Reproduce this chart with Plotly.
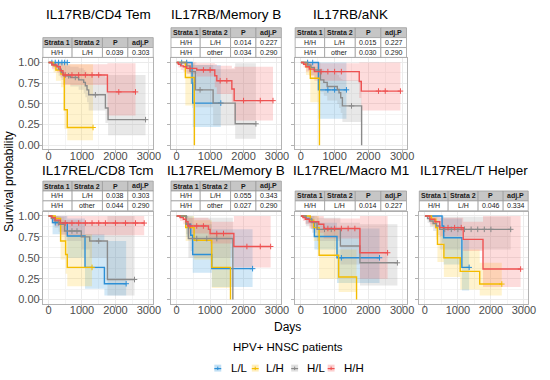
import plotly.graph_objects as go

W, H = 550, 380
FONT = "Liberation Sans, Arial, Helvetica, sans-serif"

GROUPS = ["L/L", "L/H", "H/L", "H/H"]
LINE_COLOR = {"L/L": "#2C8FD6", "L/H": "#F4BC00", "H/L": "#8A8A8A", "H/H": "#EE5252"}
FILL_RGB = {"L/L": (46, 150, 220), "L/H": (255, 200, 30), "H/L": (150, 150, 150), "H/H": (245, 95, 95)}
FILL_ALPHA = 0.22

X_TICKS = [0, 1000, 2000, 3000]
X_MINOR = [500, 1500, 2500]
Y_TICKS = [0.0, 0.25, 0.5, 0.75, 1.0]
Y_MINOR = [0.125, 0.375, 0.625, 0.875]
X_RANGE = [-170, 3130]
Y_RANGE = [-0.05, 1.05]

TABLE_HEADER = ["Strata 1", "Strata 2", "P", "adj.P"]

# ---- Kaplan-Meier curves ----
# t: step start times (days), s: survival, lo/hi: CI per step, end: last follow-up, cens: censor times
CD4TEM = {
    "L/L": dict(t=[0], s=[1.0], lo=[1.0], hi=[1.0], end=560, cens=[100, 200, 300, 400, 480, 560]),
    "L/H": dict(t=[0, 150, 220, 370, 470, 560], s=[1, 0.96, 0.91, 0.86, 0.43, 0.215],
                lo=[1, 0.88, 0.78, 0.70, 0.20, 0.06], hi=[1, 1, 1, 1, 1, 0.98], end=1330, cens=[1330]),
    "H/L": dict(t=[0, 100, 200, 300, 380, 450, 650, 900, 1050, 1100, 1150, 1200, 1700, 1780],
                s=[1, 0.98, 0.96, 0.92, 0.88, 0.84, 0.82, 0.79, 0.76, 0.72, 0.67, 0.61, 0.45, 0.31],
                lo=[1, 0.94, 0.90, 0.84, 0.79, 0.74, 0.71, 0.67, 0.63, 0.58, 0.52, 0.42, 0.27, 0.12],
                hi=[1, 1, 1, 1, 0.98, 0.96, 0.95, 0.93, 0.91, 0.89, 0.87, 0.86, 0.82, 0.85],
                end=2900, cens=[600, 800, 1400, 2900]),
    "H/H": dict(t=[0, 100, 250, 350, 430, 1760], s=[1, 0.97, 0.95, 0.90, 0.85, 0.645],
                lo=[1, 0.92, 0.88, 0.82, 0.73, 0.36], hi=[1, 1, 1, 0.99, 0.98, 0.99],
                end=2600, cens=[500, 700, 900, 1100, 1300, 1500, 2100, 2600]),
}

MEMB_RB = {
    "L/L": dict(t=[0, 460, 480], s=[1, 0.75, 0.51], lo=[1, 0.45, 0.22], hi=[1, 1, 0.97], end=1320, cens=[150, 300, 1320]),
    "L/H": dict(t=[0, 260, 530], s=[1, 0.82, 0.0], lo=[1, 0.48, 0.0], hi=[1, 0.98, 0.0], end=530, cens=[]),
    "H/L": dict(t=[0, 300, 400, 560, 1090, 1750], s=[1, 0.96, 0.89, 0.67, 0.51, 0.26],
                lo=[1, 0.88, 0.74, 0.46, 0.24, 0.08], hi=[1, 1, 1, 0.97, 0.92, 0.99], end=2370, cens=[700, 2370]),
    "H/H": dict(t=[0, 50, 120, 200, 300, 600, 1140, 1200, 1650, 1720],
                s=[1, 0.98, 0.96, 0.95, 0.93, 0.91, 0.84, 0.78, 0.68, 0.54],
                lo=[1, 0.94, 0.91, 0.89, 0.86, 0.83, 0.70, 0.62, 0.52, 0.30],
                hi=[1, 1, 1, 1, 1, 0.99, 0.98, 0.96, 0.93, 0.95],
                end=2880, cens=[400, 800, 1000, 1300, 1500, 2000, 2500, 2880]),
}

ANK_RB = {
    "L/L": dict(t=[0, 520], s=[1, 0.67], lo=[1, 0.32], hi=[1, 1], end=1350, cens=[200, 350, 800, 1000, 1350]),
    "L/H": dict(t=[0, 150, 280, 550], s=[1, 0.95, 0.81, 0.0], lo=[1, 0.85, 0.52, 0.0], hi=[1, 1, 0.95, 0.0], end=550, cens=[]),
    "H/L": dict(t=[0, 200, 300, 400, 580, 680, 780, 1080, 1130, 1180, 1230, 1800],
                s=[1, 0.97, 0.94, 0.91, 0.79, 0.76, 0.71, 0.675, 0.635, 0.575, 0.476, 0.0],
                lo=[1, 0.90, 0.85, 0.80, 0.64, 0.60, 0.54, 0.50, 0.45, 0.39, 0.28, 0.0],
                hi=[1, 1, 1, 1, 0.92, 0.90, 0.87, 0.85, 0.82, 0.80, 0.79, 0.0], end=1800, cens=[1500]),
    "H/H": dict(t=[0, 80, 150, 250, 400, 1730, 1790], s=[1, 0.98, 0.95, 0.92, 0.89, 0.77, 0.655],
                lo=[1, 0.94, 0.89, 0.84, 0.78, 0.57, 0.42], hi=[1, 1, 1, 1, 0.99, 1, 1],
                end=2950, cens=[600, 800, 1000, 1200, 2300, 2500, 2950]),
}

CD8TCM = {
    "L/L": dict(t=[0, 120, 560, 1090, 1670], s=[1, 0.92, 0.76, 0.385, 0.19],
                lo=[1, 0.78, 0.50, 0.13, 0.05], hi=[1, 1, 0.97, 0.78, 0.70], end=2320, cens=[200, 300, 2320]),
    "L/H": dict(t=[0, 200, 360, 510, 560], s=[1, 0.97, 0.70, 0.54, 0.385],
                lo=[1, 0.90, 0.48, 0.31, 0.16], hi=[1, 1, 0.95, 0.85, 0.78], end=1300, cens=[1300]),
    "H/L": dict(t=[0, 80, 180, 300, 480, 980, 1230, 1760], s=[1, 0.97, 0.94, 0.90, 0.82, 0.75, 0.70, 0.24],
                lo=[1, 0.91, 0.86, 0.81, 0.70, 0.60, 0.50, 0.05], hi=[1, 1, 1, 0.99, 0.95, 0.92, 0.90, 1.0],
                end=2570, cens=[700, 850, 1500, 2570]),
    "H/H": dict(t=[0, 100, 200, 350], s=[1, 0.98, 0.95, 0.915], lo=[1, 0.94, 0.88, 0.77], hi=[1, 1, 1, 1],
                end=2860, cens=[500, 700, 900, 1100, 1300, 1500, 1700, 2000, 2300, 2600, 2860]),
}

MEMB_REL = {
    "L/L": dict(t=[0, 290, 420, 480, 1050], s=[1, 0.90, 0.77, 0.54, 0.37],
                lo=[1, 0.75, 0.58, 0.32, 0.15], hi=[1, 1, 1, 0.90, 0.84], end=2270, cens=[2270]),
    "L/H": dict(t=[0, 270, 520, 1050, 1610], s=[1, 0.86, 0.71, 0.385, 0.0],
                lo=[1, 0.70, 0.48, 0.14, 0.0], hi=[1, 1, 0.95, 0.80, 0.0], end=1610, cens=[]),
    "H/L": dict(t=[0, 280, 350, 1680], s=[1, 0.90, 0.73, 0.0], lo=[1, 0.78, 0.50, 0.0], hi=[1, 1, 0.98, 0.0],
                end=1680, cens=[600, 900, 1200]),
    "H/H": dict(t=[0, 100, 200, 280, 340, 950, 1000, 1710], s=[1, 0.98, 0.96, 0.93, 0.88, 0.84, 0.79, 0.635],
                lo=[1, 0.94, 0.90, 0.86, 0.79, 0.74, 0.67, 0.385], hi=[1, 1, 1, 1, 0.98, 0.96, 0.93, 1.0],
                end=2810, cens=[400, 600, 800, 1200, 1400, 2100, 2500, 2810]),
}

M1_REL = {
    "L/L": dict(t=[0, 150, 300, 400, 1070], s=[1, 0.97, 0.93, 0.755, 0.50],
                lo=[1, 0.91, 0.84, 0.60, 0.20], hi=[1, 1, 1, 0.92, 0.85], end=2330, cens=[1200, 2330]),
    "L/H": dict(t=[0, 280, 380, 540, 1120, 1650], s=[1, 0.95, 0.86, 0.53, 0.27, 0.0],
                lo=[1, 0.85, 0.70, 0.25, 0.09, 0.0], hi=[1, 1, 1, 0.85, 0.60, 0.0], end=1650, cens=[]),
    "H/L": dict(t=[0, 150, 330, 480, 1170, 1750], s=[1, 0.96, 0.92, 0.84, 0.64, 0.44],
                lo=[1, 0.88, 0.80, 0.70, 0.42, 0.17], hi=[1, 1, 1, 0.98, 0.92, 0.90], end=2860, cens=[700, 900, 2860]),
    "H/H": dict(t=[0, 60, 130, 250, 530, 680, 1750], s=[1, 0.98, 0.96, 0.93, 0.90, 0.85, 0.56],
                lo=[1, 0.94, 0.90, 0.85, 0.80, 0.73, 0.25], hi=[1, 1, 1, 1, 1, 0.97, 1.0],
                end=2570, cens=[800, 1000, 1200, 1400, 1600, 2570]),
}

TH_REL = {
    "L/L": dict(t=[0, 520, 570, 1120], s=[1, 0.88, 0.74, 0.385], lo=[1, 0.68, 0.42, 0.11], hi=[1, 1, 0.97, 0.72],
                end=1340, cens=[1340]),
    "L/H": dict(t=[0, 200, 330, 380, 575, 1070, 1660], s=[1, 0.96, 0.86, 0.66, 0.50, 0.337, 0.186],
                lo=[1, 0.88, 0.72, 0.45, 0.27, 0.12, 0.05], hi=[1, 1, 1, 0.88, 0.75, 0.60, 0.44], end=2330, cens=[2330]),
    "H/L": dict(t=[0, 80, 150, 250, 350, 450], s=[1, 0.97, 0.94, 0.91, 0.88, 0.84],
                lo=[1, 0.92, 0.87, 0.82, 0.77, 0.60], hi=[1, 1, 1, 1, 0.99, 0.99],
                end=2600, cens=[600, 800, 1000, 1200, 1400, 1600, 1800, 2000, 2600]),
    "H/H": dict(t=[0, 150, 300, 450, 1160, 1760], s=[1, 0.96, 0.93, 0.86, 0.72, 0.365],
                lo=[1, 0.90, 0.85, 0.76, 0.58, 0.15], hi=[1, 1, 1, 0.98, 0.93, 1.0], end=2900, cens=[700, 900, 1100, 2900]),
}

PANEL_TITLES = ["IL17RB/CD4 Tem", "IL17RB/Memory B", "IL17RB/aNK",
                "IL17REL/CD8 Tcm", "IL17REL/Memory B", "IL17REL/Macro M1", "IL17REL/T Helper"]
PANEL_TABLES = [
    [["H/H", "L/H", "0.039", "0.303"]],
    [["H/H", "L/H", "0.014", "0.227"], ["H/H", "other", "0.034", "0.290"]],
    [["H/H", "L/H", "0.015", "0.227"], ["H/H", "other", "0.030", "0.290"]],
    [["H/H", "L/H", "0.038", "0.303"], ["H/H", "other", "0.044", "0.290"]],
    [["H/H", "L/H", "0.055", "0.343"], ["H/H", "other", "0.027", "0.290"]],
    [["H/H", "L/H", "0.014", "0.227"]],
    [["H/H", "L/H", "0.046", "0.334"]],
]
PANEL_DATA = [CD4TEM, MEMB_RB, ANK_RB, CD8TCM, MEMB_REL, M1_REL, TH_REL]

# ---- layout geometry (pixels) ----
COLS = [(43.5, 155.5), (173.5, 285.5), (299.5, 412.5), (425.5, 536.0)]
ROWS = [(57, 149), (212, 305)]
TITLE_Y = [12.5, 170]
PANEL_POS = [(0, 0), (0, 1), (0, 2), (1, 0), (1, 1), (1, 2), (1, 3)]


def fx(px):
    return px / W


def fy(py):
    return 1 - py / H


def rgba(g, a):
    r, gg, b = FILL_RGB[g]
    return f"rgba({r},{gg},{b},{a})"


def ribbon(c):
    t, lo, hi, end = c["t"], c["lo"], c["hi"], c["end"]
    bounds = t[1:] + [end]
    xs, ys = [], []
    for i in range(len(t)):
        xs += [t[i], bounds[i]]
        ys += [hi[i], hi[i]]
    for i in reversed(range(len(t))):
        xs += [bounds[i], t[i]]
        ys += [lo[i], lo[i]]
    xs.append(xs[0])
    ys.append(ys[0])
    return xs, ys


def surv_at(c, time):
    val = c["s"][0]
    for ti, si in zip(c["t"], c["s"]):
        if ti <= time:
            val = si
    return val


fig = go.Figure()
layout = dict(
    width=W, height=H, margin=dict(l=0, r=0, t=0, b=0),
    paper_bgcolor="white", plot_bgcolor="white", showlegend=False,
    font=dict(family=FONT, color="#1A1A1A"),
)
shapes, annotations = [], []

for k in range(7):
    idx = k + 1
    r, ccol = PANEL_POS[k]
    x0, x1 = COLS[ccol]
    y0, y1 = ROWS[r]
    xa, ya = f"x{idx}", f"y{idx}"
    axis_common = dict(
        showline=True, mirror=True, linecolor="#B3B3B3", linewidth=1,
        showgrid=True, gridcolor="#EBEBEB", gridwidth=1, zeroline=False,
        ticks="outside", ticklen=3, tickcolor="#B3B3B3",
        tickfont=dict(size=11, color="#4D4D4D", family=FONT),
    )
    layout[f"xaxis{idx}"] = dict(
        domain=[fx(x0), fx(x1)], anchor=ya, range=X_RANGE, tickmode="array", tickvals=X_TICKS,
        ticklabelstandoff=-7,
        minor=dict(tickvals=X_MINOR, showgrid=True, gridcolor="#F4F4F4", ticks=""),
        **axis_common)
    layout[f"yaxis{idx}"] = dict(
        domain=[fy(y1), fy(y0)], anchor=xa, range=Y_RANGE, tickmode="array", tickvals=Y_TICKS,
        tickformat=".2f", showticklabels=(ccol == 0), ticklabelstandoff=-3,
        minor=dict(tickvals=Y_MINOR, showgrid=True, gridcolor="#F4F4F4", ticks=""),
        **axis_common)

    data = PANEL_DATA[k]
    for g in GROUPS:
        xs, ys = ribbon(data[g])
        fig.add_trace(go.Scatter(x=xs, y=ys, xaxis=xa, yaxis=ya, mode="lines", fill="toself",
                                 fillcolor=rgba(g, FILL_ALPHA), line=dict(width=0), hoverinfo="skip"))
    for g in GROUPS:
        c = data[g]
        fig.add_trace(go.Scatter(x=c["t"] + [c["end"]], y=c["s"] + [c["s"][-1]], xaxis=xa, yaxis=ya,
                                 mode="lines", line=dict(color=LINE_COLOR[g], width=1.4, shape="hv"),
                                 hoverinfo="skip"))
        if c["cens"]:
            fig.add_trace(go.Scatter(x=c["cens"], y=[surv_at(c, tc) for tc in c["cens"]], xaxis=xa, yaxis=ya,
                                     mode="markers",
                                     marker=dict(symbol="cross-thin", size=4,
                                                 line=dict(width=1, color=LINE_COLOR[g])),
                                     hoverinfo="skip"))

    # title
    annotations.append(dict(x=fx((x0 + x1) / 2), y=fy(TITLE_Y[r]), xref="paper", yref="paper",
                            text=PANEL_TITLES[k], showarrow=False, xanchor="center", yanchor="middle",
                            font=dict(size=13.5, color="#000000", family=FONT)))
    # table
    rows_t = [TABLE_HEADER] + PANEL_TABLES[k]
    rh = 10
    tbottom = y0 - 1
    ttop = tbottom - rh * len(rows_t)
    fracs = [0.265, 0.275, 0.23, 0.23]
    edges = [x0]
    for f in fracs:
        edges.append(edges[-1] + f * (x1 - x0))
    for ri, row in enumerate(rows_t):
        yt = ttop + ri * rh
        yb = yt + rh
        for ci, txt in enumerate(row):
            shapes.append(dict(type="rect", xref="paper", yref="paper",
                               x0=fx(edges[ci]), x1=fx(edges[ci + 1]), y0=fy(yb), y1=fy(yt),
                               fillcolor="#C6C6C6" if ri == 0 else "#FFFFFF",
                               line=dict(color="#9E9E9E", width=0.8), layer="above"))
            annotations.append(dict(x=fx((edges[ci] + edges[ci + 1]) / 2), y=fy((yt + yb) / 2),
                                    xref="paper", yref="paper",
                                    text=f"<b>{txt}</b>" if ri == 0 else txt, showarrow=False,
                                    xanchor="center", yanchor="middle",
                                    font=dict(size=7, color="#1A1A1A", family=FONT)))

# axis titles
annotations.append(dict(x=fx(292), y=fy(328), xref="paper", yref="paper", text="Days", showarrow=False,
                        xanchor="center", yanchor="middle", font=dict(size=12, color="#000000", family=FONT)))
annotations.append(dict(x=fx(9), y=fy(181), xref="paper", yref="paper", text="Survival probability",
                        showarrow=False, textangle=-90, xanchor="center", yanchor="middle",
                        font=dict(size=12, color="#000000", family=FONT)))
# legend
annotations.append(dict(x=fx(292), y=fy(349), xref="paper", yref="paper", text="HPV+ HNSC patients",
                        showarrow=False, xanchor="center", yanchor="middle",
                        font=dict(size=11.5, color="#000000", family=FONT)))
LEG_KEY_X = [221, 259, 299, 336]
LEG_TXT_X = [232, 268, 309, 347]
ky = 370
for g, kx, tx in zip(GROUPS, LEG_KEY_X, LEG_TXT_X):
    shapes.append(dict(type="rect", xref="paper", yref="paper", x0=fx(kx - 3.5), x1=fx(kx + 3.5),
                       y0=fy(ky + 3.5), y1=fy(ky - 3.5), fillcolor=rgba(g, 0.3), line=dict(width=0)))
    shapes.append(dict(type="line", xref="paper", yref="paper", x0=fx(kx - 3.5), x1=fx(kx + 3.5),
                       y0=fy(ky + 0.5), y1=fy(ky + 0.5), line=dict(color=LINE_COLOR[g], width=1.2)))
    shapes.append(dict(type="line", xref="paper", yref="paper", x0=fx(kx), x1=fx(kx),
                       y0=fy(ky + 2), y1=fy(ky - 1.5), line=dict(color=LINE_COLOR[g], width=1)))
    annotations.append(dict(x=fx(tx), y=fy(ky), xref="paper", yref="paper", text=g, showarrow=False,
                            xanchor="left", yanchor="middle",
                            font=dict(size=11.5, color="#000000", family=FONT)))

layout["shapes"] = shapes
layout["annotations"] = annotations
fig.update_layout(**layout)
fig.write_html("out.html", config={"displayModeBar": False},
               post_script="document.body.style.margin='0';document.body.style.overflow='hidden';")
